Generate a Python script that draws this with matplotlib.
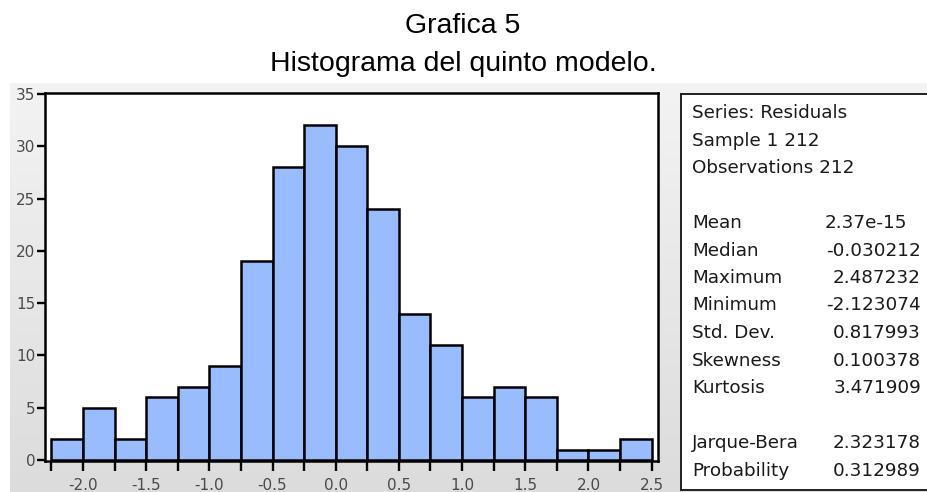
import numpy as np
import matplotlib.pyplot as plt
from matplotlib.colors import LinearSegmentedColormap

# ------------------------------------------------------------------------------
# Data
# ------------------------------------------------------------------------------
bin_edges = np.arange(-2.25, 2.51, 0.25)
counts    = [2, 5, 2, 6, 7, 9, 19, 28, 32, 30, 24, 14, 11, 6, 7, 6, 1, 1, 2]

x_labels  = ['-2.0', '-1.5', '-1.0', '-0.5', '0.0', '0.5', '1.0', '1.5', '2.0', '2.5']
y_ticks   = [0, 5, 10, 15, 20, 25, 30, 35]

header_lines = ['Series: Residuals', 'Sample 1 212', 'Observations 212']
stat_names   = ['Mean', 'Median', 'Maximum', 'Minimum', 'Std. Dev.', 'Skewness', 'Kurtosis']
stat_values  = ['2.37e-15', '-0.030212', '2.487232', '-2.123074', '0.817993', '0.100378', '3.471909']
test_names   = ['Jarque-Bera', 'Probability']
test_values  = ['2.323178', '0.312989']

title_1 = 'Grafica 5'
title_2 = 'Histograma del quinto modelo.'

W, H = 927, 492

# pixel (from top-left) -> figure fraction
def fx(px):
    return px / W

def fy(py):
    return 1 - py / H

# ------------------------------------------------------------------------------
# Figure and grey background of the EViews output
# ------------------------------------------------------------------------------
fig = plt.figure(figsize=(W / 100, H / 100), dpi=100)
fig.patch.set_facecolor('white')

bg = fig.add_axes([fx(10), 0, 1 - fx(10), (H - 83) / H])
grey = LinearSegmentedColormap.from_list('grey', ['#f3f3f3', '#dcdcdc'])
bg.imshow(np.linspace(0, 1, 100).reshape(-1, 1), aspect='auto', cmap=grey,
          extent=[0, 1, 0, 1], origin='upper')
bg.set_axis_off()
bg.set_zorder(-5)

# titles
fig.text(fx(463), fy(33), title_1, ha='center', va='baseline',
         fontsize=20.5, family='Liberation Sans', color='black')
fig.text(fx(463), fy(71), title_2, ha='center', va='baseline',
         fontsize=20.5, family='Liberation Sans', color='black')

# ------------------------------------------------------------------------------
# Histogram
# ------------------------------------------------------------------------------
ax = fig.add_axes([fx(45), fy(461), fx(658) - fx(45), fy(93) - fy(461)])
ax.set_facecolor('white')
ax.bar(bin_edges[:-1], counts, width=0.25, align='edge',
       color='#98bcfd', edgecolor='black', linewidth=1.8)

ax.set_xlim(-2.30, 2.55)
ax.set_ylim(-0.1, 35.1)

xt_labels = []
for e in bin_edges:
    lab = '%.1f' % e
    if lab == '-0.0':
        lab = '0.0'
    xt_labels.append(lab if lab in x_labels else '')
ax.set_xticks(bin_edges, labels=xt_labels)
ax.set_yticks(y_ticks)

# labels sit low, just above the bottom edge as in the screenshot
ax.tick_params(axis='x', direction='out', length=7.5, width=1.7, pad=4.5,
               labelsize=11, labelcolor='#4a4a4a')
ax.tick_params(axis='y', direction='out', length=6, width=1.7, pad=1,
               labelsize=11, labelcolor='#4a4a4a')
for s in ax.spines.values():
    s.set_linewidth(1.8)
    s.set_color('black')

# ------------------------------------------------------------------------------
# Statistics box
# ------------------------------------------------------------------------------
sb = fig.add_axes([fx(681), fy(490), fx(940) - fx(681), fy(94) - fy(490)])
sb.set_facecolor('white')
sb.set_xticks([])
sb.set_yticks([])
for s in sb.spines.values():
    s.set_linewidth(1.4)
    s.set_color('#202020')

x_lab = 692
x_val = 921
row_h = 27.5
y0    = 113

def row_y(i):
    return fy(y0 + i * row_h)

txt = dict(fontsize=13.2, family='DejaVu Sans', color='#1a1a1a', va='center')

for i, line in enumerate(header_lines):
    fig.text(fx(x_lab), row_y(i), line, ha='left', **txt)

for i, (n, v) in enumerate(zip(stat_names, stat_values)):
    fig.text(fx(x_lab), row_y(i + 4), n, ha='left', **txt)
    if n == 'Mean':
        fig.text(fx(825), row_y(i + 4), v, ha='left', **txt)
    else:
        fig.text(fx(x_val), row_y(i + 4), v, ha='right', **txt)

for i, (n, v) in enumerate(zip(test_names, test_values)):
    fig.text(fx(x_lab), row_y(i + 12), n, ha='left', **txt)
    fig.text(fx(x_val), row_y(i + 12), v, ha='right', **txt)

plt.savefig('out.png', dpi=100)
